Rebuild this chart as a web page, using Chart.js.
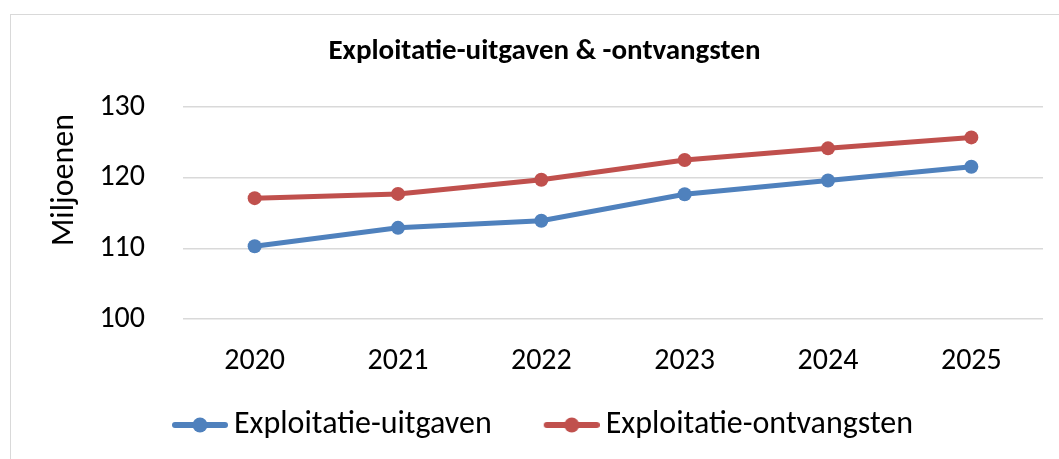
<!DOCTYPE html>
<html>
<head>
<meta charset="utf-8">
<script src="https://cdn.jsdelivr.net/npm/chart.js@4/dist/chart.umd.min.js"></script>
<style>
  body { margin: 0; background: #fff; overflow: hidden; }
  #wrap { position: relative; width: 1059px; height: 459px; }
  #frame { position: absolute; left: 10px; top: 14px; width: 1100px; height: 500px; border: 1.5px solid #d9d9d9; box-sizing: border-box; }
  canvas { position: absolute; left: 0; top: 0; }
</style>
</head>
<body>
<div id="wrap">
  <div id="frame"></div>
  <canvas id="chart" width="1059" height="459"></canvas>
</div>
<script>
// chart data
const years = ['2020', '2021', '2022', '2023', '2024', '2025'];
const uitgaven = [110.3, 112.9, 113.9, 117.65, 119.6, 121.55];
const ontvangsten = [117.1, 117.7, 119.7, 122.5, 124.15, 125.7];
const yTicks = [100, 110, 120, 130];

const FONT = 'Carlito, Calibri, Lato, sans-serif';
const blue = '#4F81BD';
const red = '#C0504D';

// legend marker: line with a dot; blank space on the left pushes the marker away from the previous item
function legendMarker(color) {
    const c = document.createElement('canvas');
    c.width = 108; c.height = 18;
    const g = c.getContext('2d');
    g.strokeStyle = color;
    g.lineWidth = 6;
    g.lineCap = 'round';
    g.beginPath();
    g.moveTo(55, 9); g.lineTo(105, 9);
    g.stroke();
    g.fillStyle = color;
    g.beginPath();
    g.arc(80, 9, 7.5, 0, Math.PI * 2);
    g.fill();
    return c;
}
const markers = [legendMarker(blue), legendMarker(red)];

// y axis title drawn by hand so it sits where Excel put it
const axisTitle = {
    id: 'axisTitle',
    afterDraw(chart) {
        const ctx = chart.ctx;
        ctx.save();
        ctx.translate(65, 180);
        ctx.rotate(-Math.PI / 2);
        ctx.font = '32px ' + FONT;
        ctx.fillStyle = '#000';
        ctx.textAlign = 'center';
        ctx.textBaseline = 'middle';
        ctx.fillText('Miljoenen', 0, 0);
        ctx.restore();
    }
};

const ctx = document.getElementById('chart').getContext('2d');
new Chart(ctx, {
    type: 'line',
    data: {
        labels: years,
        datasets: [{
            label: 'Exploitatie-uitgaven',
            data: uitgaven,
            borderColor: blue,
            backgroundColor: blue,
            borderWidth: 5,
            pointRadius: 7,
            pointBorderWidth: 0,
            pointBackgroundColor: blue,
            fill: false,
            tension: 0
        }, {
            label: 'Exploitatie-ontvangsten',
            data: ontvangsten,
            borderColor: red,
            backgroundColor: red,
            borderWidth: 5,
            pointRadius: 7,
            pointBorderWidth: 0,
            pointBackgroundColor: red,
            fill: false,
            tension: 0
        }]
    },
    options: {
        responsive: false,
        animation: false,
        layout: { padding: { left: 0, right: 16, top: 0, bottom: 8 } },
        plugins: {
            title: {
                display: true,
                // leading spaces nudge the centred title a bit to the right, as in the original
                text: '       Exploitatie-uitgaven & -ontvangsten',
                color: '#000',
                font: { family: FONT, size: 29, weight: 'bold', lineHeight: 1.2 },
                padding: { top: 34, bottom: 38.2 }
            },
            legend: {
                position: 'bottom',
                labels: {
                    color: '#000',
                    font: { family: FONT, size: 32 },
                    usePointStyle: true,
                    pointStyleWidth: 88,
                    padding: 10,
                    generateLabels: function(chart) {
                        return chart.data.datasets.map((ds, i) => ({
                            text: ds.label,
                            pointStyle: markers[i],
                            fillStyle: ds.borderColor,
                            strokeStyle: ds.borderColor,
                            lineWidth: 0,
                            datasetIndex: i,
                            hidden: false
                        }));
                    }
                }
            },
            tooltip: { enabled: false }
        },
        scales: {
            x: {
                offset: true,
                grid: { display: false, drawTicks: false },
                border: { display: false },
                ticks: { color: '#000', font: { family: FONT, size: 30 }, padding: 24 },
                afterFit: function(s) { s.height = 80; }
            },
            y: {
                min: 100,
                max: 130,
                afterBuildTicks: function(s) { s.ticks = yTicks.map(v => ({ value: v })); },
                grid: { color: '#d9d9d9', lineWidth: 1.5, drawTicks: false },
                border: { display: false },
                ticks: { color: '#000', font: { family: FONT, size: 30 }, padding: 38 },
                afterFit: function(s) { s.width = 183; }
            }
        }
    },
    plugins: [axisTitle]
});
</script>
</body>
</html>
